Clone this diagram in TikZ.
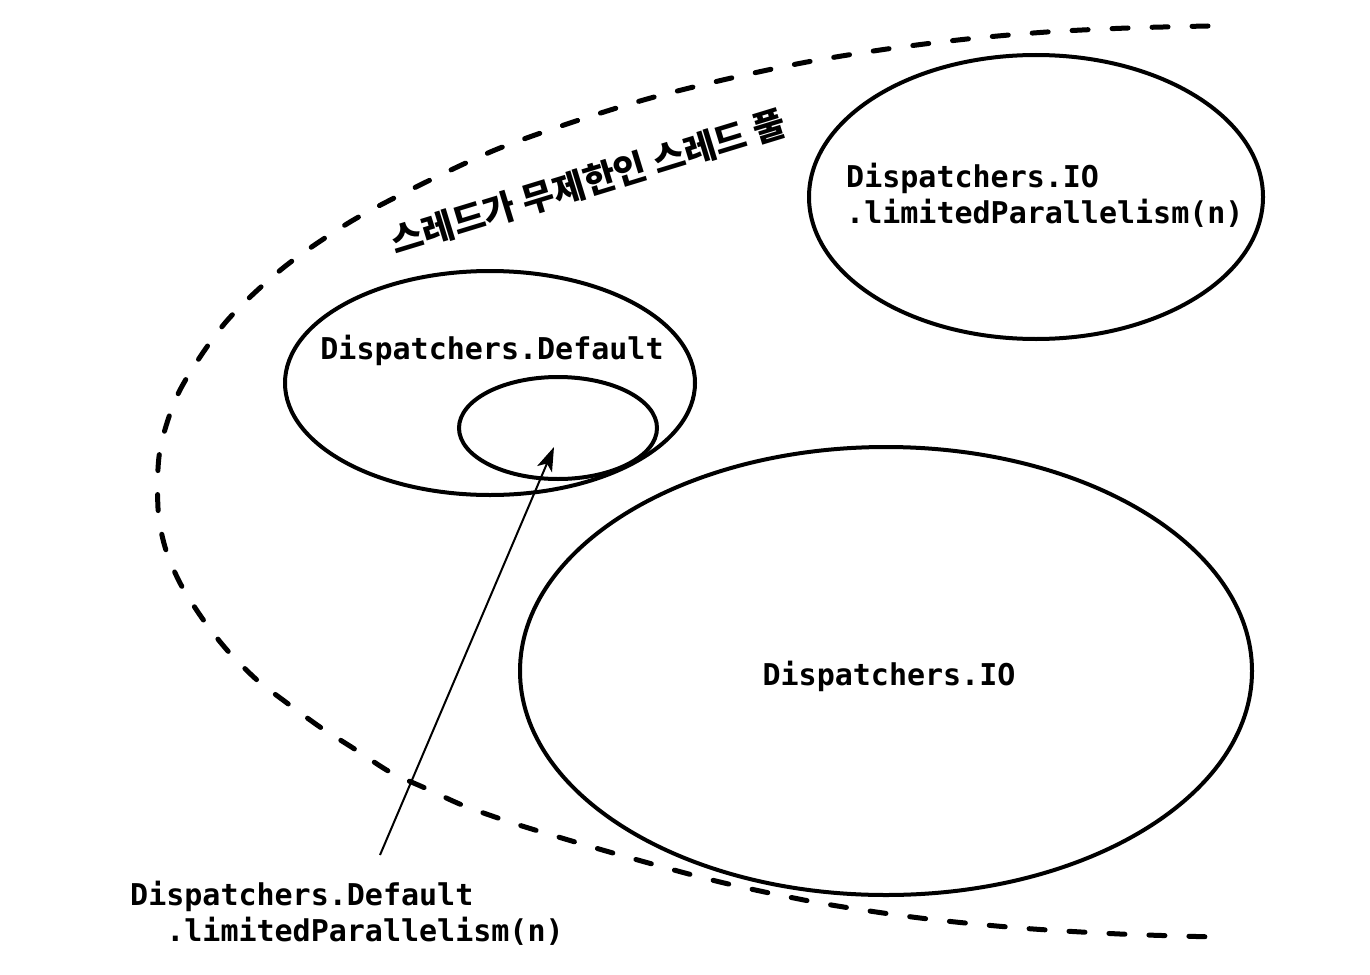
\documentclass[tikz,border=0pt]{standalone}
\usepackage{fontspec}
\setmonofont{DejaVu Sans Mono}
\newfontfamily\kr{Noto Sans CJK KR}
\usetikzlibrary{arrows.meta}
\tikzset{
  lbl/.style={font=\ttfamily\bfseries\fontsize{30}{36}\selectfont, inner sep=0pt},
  pool/.style={line width=5pt, dash pattern=on 16pt off 24pt, line cap=round},
  ring/.style={line width=4pt},
}
\begin{document}
\begin{tikzpicture}[x=1pt,y=-1pt]
\useasboundingbox (0,0) rectangle (1370,974);
% dashed pool boundary
\draw[pool] plot[smooth, tension=0.5] coordinates {(1208,26) (1128,28) (1047,32) (967,39) (887,49) (807,62) (727,79) (647,99) (570,123) (495,150) (420,185) (350,222) (283,268) (225,323) (180,390) (160,450) (158,508) (165,547) (180,583) (202,618) (227,650) (257,680) (287,703) (320,727) (353,748) (390,772) (425,788) (462,805) (498,818) (535,830) (620,855) (720,882) (820,903) (920,918) (1020,928) (1120,934) (1215,937)};
% ellipses
\draw[ring] (490,383) ellipse [x radius=205, y radius=112];
\draw[ring] (558,428) ellipse [x radius=99, y radius=51];
\draw[ring] (1036,197) ellipse [x radius=227, y radius=142];
\draw[ring] (886,671) ellipse [x radius=366, y radius=224];
% labels
\node[lbl, anchor=west] (io2) at (846,198) {\begin{tabular}{@{}l@{}}Dispatchers.IO\\.limitedParallelism(n)\end{tabular}};
\node[lbl] (def) at (492,350) {Dispatchers.Default};
\node[lbl] (io) at (889,676) {Dispatchers.IO};
\node[lbl, anchor=north west] (deflim) at (130,880) {\begin{tabular}{@{}l@{}}Dispatchers.Default\\\ \ .limitedParallelism(n)\end{tabular}};
\node[inner sep=0pt, rotate=17, font=\kr\bfseries\fontsize{35}{40}\selectfont] (pool) at (588,182) {스레드가 무제한인 스레드 풀};
% arrow
\coordinate (tip) at (554,447);
\coordinate (tail) at (380,855);
\draw[line width=2pt, -{Stealth[length=24pt, width=16pt, inset=6pt]}] (tail) -- (tip);
\end{tikzpicture}
\end{document}
